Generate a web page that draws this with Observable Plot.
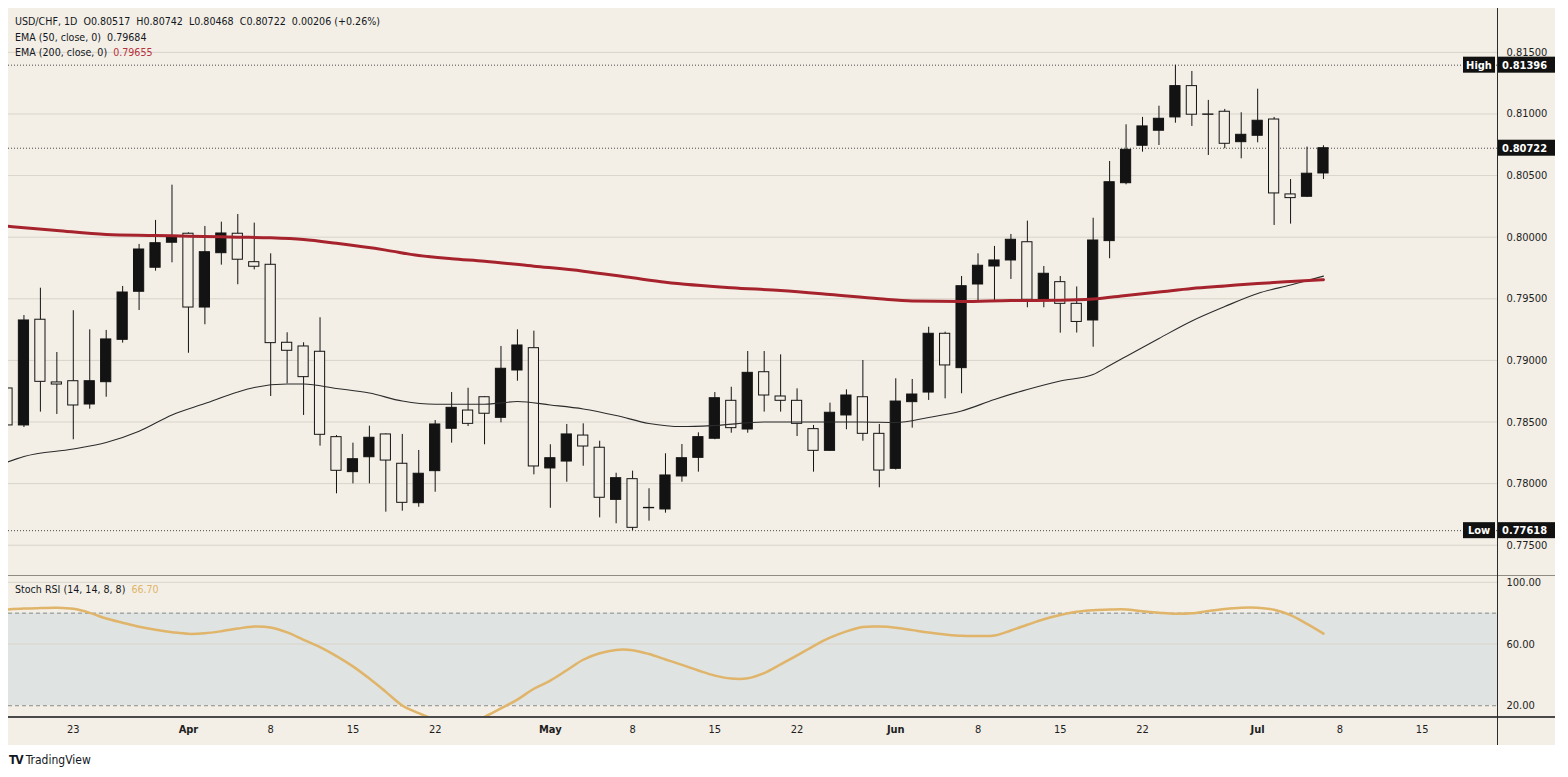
<!DOCTYPE html>
<html><head><meta charset="utf-8">
<script src="https://cdn.jsdelivr.net/npm/d3@7"></script>
<script src="https://cdn.jsdelivr.net/npm/@observablehq/plot@0.6"></script>
<style>
html,body{margin:0;padding:0;background:#fff;}
#wrap{position:relative;width:1568px;height:777px;overflow:hidden;font-family:"DejaVu Sans",sans-serif;font-stretch:condensed;color:#131722;}
#bg{position:absolute;left:8px;top:8px;width:1547px;height:737px;background:#f3efe6;}
.panel{position:absolute;left:8px;}
#price{top:8px;}
#stoch{top:576px;}
.hline{position:absolute;left:8px;width:1547px;}
#sep{top:575px;height:1px;background:#8f8c86;}
#bot{top:716px;height:2px;background:#4a4a4a;}
#vax{position:absolute;left:1497px;top:8px;width:1px;height:737px;background:#2b2b2b;}
.lg{position:absolute;left:15px;font-size:10.6px;line-height:13px;white-space:pre;}
.lg span.v{margin-left:6px;}
#tv{position:absolute;left:9px;top:753px;font-size:12px;white-space:pre;color:#131722;}
#tv b{font-size:12px;letter-spacing:-1px;margin-right:3px;}
</style></head><body>
<div id="wrap">
  <div id="bg"></div>
  <div id="price" class="panel"></div>
  <div id="stoch" class="panel"></div>
  <div id="sep" class="hline"></div>
  <div id="bot" class="hline"></div>
  <div id="vax"></div>
  <div id="lg1" class="lg" style="top:15px"></div>
  <div id="lg2" class="lg" style="top:30.5px"></div>
  <div id="lg3" class="lg" style="top:46px"></div>
  <div id="slabel" class="lg" style="top:583px"></div>
  <div id="tv"><b>TV</b>TradingView</div>
</div>
<script>
// ---- data (USD/CHF daily, 2026-03-17 .. 2026-07-07) ----
const dates = ["03-17","03-18","03-19","03-20","03-23","03-24","03-25","03-26","03-27","03-30",
"03-31","04-01","04-02","04-03","04-06","04-07","04-08","04-09","04-10","04-13",
"04-14","04-15","04-16","04-17","04-20","04-21","04-22","04-23","04-24","04-27",
"04-28","04-29","04-30","05-01","05-04","05-05","05-06","05-07","05-08","05-11",
"05-12","05-13","05-14","05-15","05-18","05-19","05-20","05-21","05-22","05-25",
"05-26","05-27","05-28","05-29","06-01","06-02","06-03","06-04","06-05","06-08",
"06-09","06-10","06-11","06-12","06-15","06-16","06-17","06-18","06-19","06-22",
"06-23","06-24","06-25","06-26","06-29","06-30","07-01","07-02","07-03","07-06","07-07"];

const open = [0.78772,0.78472,0.79330,0.78821,0.78831,0.78642,0.78823,0.79167,0.79557,0.79752,
0.79955,0.80028,0.79429,0.79870,0.80028,0.79797,0.79776,0.79143,0.79113,0.79070,
0.78377,0.78093,0.78214,0.78399,0.78161,0.77841,0.78101,0.78445,0.78593,0.78701,
0.78534,0.78918,0.79099,0.78123,0.78179,0.78390,0.78291,0.77868,0.78036,0.77800,
0.77790,0.78058,0.78209,0.78364,0.78672,0.78439,0.78904,0.78707,0.78672,0.78442,
0.78266,0.78553,0.78701,0.78404,0.78120,0.78661,0.78739,0.79216,0.78937,0.79616,
0.79762,0.79811,0.79959,0.79492,0.79635,0.79459,0.79324,0.79968,0.80438,0.80742,
0.80864,0.80972,0.81226,0.80996,0.81018,0.80771,0.80823,0.80955,0.80347,0.80328,0.80517];

const high = [0.78999,0.79364,0.79586,0.79064,0.79403,0.79248,0.79243,0.79600,0.79941,0.80136,
0.80422,0.80035,0.80087,0.80122,0.80184,0.80114,0.79865,0.79224,0.79143,0.79346,
0.78390,0.78328,0.78466,0.78404,0.78399,0.78269,0.78512,0.78739,0.78774,0.78705,
0.79113,0.79248,0.79237,0.78315,0.78480,0.78485,0.78344,0.78084,0.78101,0.77958,
0.78242,0.78317,0.78412,0.78739,0.78782,0.79072,0.79072,0.79045,0.78769,0.78472,
0.78653,0.78761,0.78999,0.78480,0.78851,0.78845,0.79269,0.79229,0.79681,0.79865,
0.79925,0.80022,0.80130,0.79762,0.79681,0.79596,0.80154,0.80614,0.80912,0.80972,
0.81063,0.81396,0.81345,0.81110,0.81037,0.81010,0.81201,0.80972,0.80468,0.80731,0.80742];

const low = [0.78455,0.78455,0.78580,0.78561,0.78356,0.78604,0.78701,0.79140,0.79405,0.79724,
0.79792,0.79058,0.79289,0.79773,0.79614,0.79735,0.78707,0.78810,0.78553,0.78304,
0.77917,0.77998,0.77998,0.77768,0.77776,0.77808,0.77930,0.78328,0.78463,0.78315,
0.78493,0.78831,0.78071,0.77800,0.78011,0.78141,0.77722,0.77674,0.77618,0.77695,
0.77760,0.78011,0.78093,0.78356,0.78409,0.78409,0.78580,0.78580,0.78382,0.78093,
0.78263,0.78437,0.78344,0.77966,0.78110,0.78450,0.78675,0.78688,0.78729,0.79478,
0.79486,0.79657,0.79427,0.79427,0.79221,0.79222,0.79107,0.79825,0.80425,0.80690,
0.80744,0.80925,0.80899,0.80663,0.80718,0.80636,0.80766,0.80095,0.80106,0.80322,0.80468];

const close = [0.78472,0.79324,0.78826,0.78804,0.78634,0.78831,0.79170,0.79551,0.79900,0.79951,
0.80000,0.79429,0.79878,0.80030,0.79817,0.79760,0.79140,0.79078,0.78864,0.78396,
0.78104,0.78198,0.78372,0.78187,0.77844,0.78080,0.78480,0.78615,0.78485,0.78567,
0.78932,0.79121,0.78139,0.78206,0.78399,0.78301,0.77885,0.78044,0.77641,0.77803,
0.78066,0.78206,0.78377,0.78693,0.78450,0.78899,0.78715,0.78672,0.78485,0.78266,
0.78575,0.78715,0.78404,0.78106,0.78666,0.78723,0.79216,0.78959,0.79602,0.79768,
0.79811,0.79979,0.79492,0.79703,0.79459,0.79312,0.79973,0.80446,0.80709,0.80899,
0.80961,0.81226,0.80994,0.80993,0.80758,0.80831,0.80945,0.80355,0.80317,0.80515,0.80722];

// EMA 50 read at bar indices
const ema50Idx = [0,1,4,6,8,10,12,14,15,17,18,20,22,24,26,29,31,33,35,37,39,41,43,46,49,52,54,56,58,60,62,64,66,67,68,70,72,74,76,78,80];
const ema50Val = [0.78175,0.78220,0.78281,0.78334,0.78425,0.78557,0.78650,0.78744,0.78780,0.78808,0.78808,0.78772,0.78735,0.78670,0.78644,0.78644,0.78666,0.78638,0.78606,0.78553,0.78488,0.78463,0.78472,0.78500,0.78500,0.78500,0.78496,0.78537,0.78589,0.78683,0.78764,0.78833,0.78886,0.78959,0.79032,0.79178,0.79320,0.79437,0.79543,0.79612,0.79684];
// EMA 200 read at bar indices
const ema200Idx = [0,3,6,9,11,14,16,18,20,23,25,27,29,32,35,38,40,44,47,50,53,55,58,61,64,66,68,70,72,74,76,78,80];
const ema200Val = [0.80089,0.80054,0.80022,0.80014,0.80008,0.80000,0.79995,0.79981,0.79950,0.79895,0.79851,0.79825,0.79805,0.79765,0.79724,0.79670,0.79635,0.79590,0.79567,0.79535,0.79500,0.79482,0.79478,0.79486,0.79488,0.79498,0.79527,0.79555,0.79584,0.79604,0.79624,0.79640,0.79655];

// Stoch RSI per bar
const stoch = [82.4,83.0,83.3,83.5,82.8,80.2,76.5,73.8,71.2,69.2,
67.7,66.6,67.0,68.3,70.0,71.4,70.7,67.5,62.7,58.0,
52.2,45.5,37.6,29.0,20.2,15.2,11.0,8.0,9.0,12.8,
18.3,24.0,31.0,36.3,43.0,49.8,54.0,56.2,56.0,53.5,
50.0,46.5,42.8,39.5,37.6,37.8,41.2,46.8,52.6,58.7,
64.1,68.2,71.0,71.3,70.6,69.0,67.4,66.2,65.3,65.2,
65.5,68.8,72.5,76.1,78.8,80.9,81.9,82.3,82.4,81.2,
80.3,79.6,79.9,81.4,82.7,83.5,83.5,82.2,78.7,73.0,66.7];

const priceTicks = [0.775,0.780,0.785,0.790,0.795,0.800,0.805,0.810,0.815];
const stochTicks = [20,60,100];
const stochBand = [20,80];
const tickIdx = [4,11,16,21,26,33,38,43,48,54,59,64,69,76,81,86];
const tickLabel = ["23","Apr","8","15","22","May","8","15","22","Jun","8","15","22","Jul","8","15"];
const monthLabels = ["Apr","May","Jun","Jul"];
const levelValues = [0.81396, 0.80722, 0.77618];
const levelTags = ["High", "", "Low"];

// ---- styling ----
const FONT = '"DejaVu Sans", sans-serif';
const BG = "#f3efe6", INK = "#131313", GRID = "#d8d4cb", RED = "#a6232d", ORANGE = "#e0b469", BAND = "#dfe3e2";
const xDomain = [0.061, 90.58];

const candles = dates.map((d, i) => ({i, d, o: open[i], h: high[i], l: low[i], c: close[i]}));
const ema50 = ema50Idx.map((i, k) => ({i, v: ema50Val[k]}));
const ema200 = ema200Idx.map((i, k) => ({i, v: ema200Val[k]}));
const stochData = stoch.map((v, i) => ({i, v}));
const labelOf = new Map(tickIdx.map((t, k) => [t, tickLabel[k]]));
const dayTicks = tickIdx.filter(t => !monthLabels.includes(labelOf.get(t)));
const monTicks = tickIdx.filter(t => monthLabels.includes(labelOf.get(t)));

const style = {background: "transparent", fontFamily: FONT, fontStretch: "condensed", fontSize: "11px", overflow: "visible", color: "#131722"};

const priceChart = Plot.plot({
  width: 1547, height: 568,
  marginLeft: 0, marginRight: 58, marginTop: 0, marginBottom: 0,
  x: {domain: xDomain, axis: null, label: null},
  y: {domain: [0.77246, 0.81856], axis: null, label: null},
  style,
  marks: [
    Plot.ruleY(priceTicks, {stroke: GRID, strokeWidth: 1}),
    Plot.axisY({anchor: "right", label: null, ticks: priceTicks, tickFormat: d => d.toFixed(5), tickSize: 0, tickPadding: 9, fill: "#1e1e1e", fontSize: 11}),
    Plot.ruleY(levelValues, {stroke: "#4a4a4a", strokeWidth: 1, strokeDasharray: "1,2"}),
    Plot.ruleX(candles, {x: "i", y1: "l", y2: "h", stroke: INK, strokeWidth: 1, clip: true}),
    Plot.rect(candles, {x1: d => d.i - 0.31, x2: d => d.i + 0.31, y1: "o", y2: "c",
      fill: d => d.c >= d.o ? INK : BG, stroke: INK, strokeWidth: 1, clip: true}),
    Plot.line(ema50, {x: "i", y: "v", stroke: "#2b2b2b", strokeWidth: 1.1, curve: "monotone-x", clip: true}),
    Plot.line(ema200, {x: "i", y: "v", stroke: RED, strokeWidth: 3, curve: "monotone-x", clip: true})
  ]
});
document.getElementById("price").appendChild(priceChart);

// price tags on the right axis, positioned with the chart's own y scale
{
  const ys = priceChart.scale("y");
  const svg = d3.select(priceChart);
  const xr = 1489;
  levelValues.forEach((v, k) => {
    const y = ys.apply(v);
    const g = svg.append("g").attr("text-anchor", "start");
    g.append("rect").attr("x", xr).attr("y", y - 8).attr("width", 58).attr("height", 16).attr("fill", "#111");
    g.append("text").attr("x", xr + 5).attr("y", y).attr("dy", "0.36em").attr("text-anchor", "start").attr("fill", "#fff")
      .attr("font-weight", "bold").attr("font-size", 11).text(v.toFixed(5));
    if (levelTags[k]) {
      g.append("rect").attr("x", xr - 34).attr("y", y - 8).attr("width", 32).attr("height", 16).attr("fill", "#111");
      g.append("text").attr("x", xr - 18).attr("y", y).attr("dy", "0.36em").attr("text-anchor", "middle")
        .attr("fill", "#fff").attr("font-weight", "bold").attr("font-size", 11).text(levelTags[k]);
    }
  });
}

const stochChart = Plot.plot({
  width: 1547, height: 169,
  marginLeft: 0, marginRight: 58, marginTop: 0, marginBottom: 28,
  x: {domain: xDomain, axis: null, label: null},
  y: {domain: [12.38, 103.76], axis: null, label: null},
  style,
  marks: [
    Plot.rect([stochBand], {y1: d => d[0], y2: d => d[1], fill: BAND}),
    Plot.ruleY([100, 60], {stroke: GRID, strokeWidth: 1}),
    Plot.ruleY(stochBand, {stroke: "#8a8a8a", strokeWidth: 1, strokeDasharray: "4,3"}),
    Plot.axisY({anchor: "right", label: null, ticks: stochTicks, tickFormat: d => d.toFixed(2), tickSize: 0, tickPadding: 9, fill: "#1e1e1e", fontSize: 11}),
    Plot.line(stochData, {x: "i", y: "v", stroke: ORANGE, strokeWidth: 2.5, curve: "catmull-rom", clip: true}),
    Plot.axisX({label: null, ticks: dayTicks, tickFormat: t => labelOf.get(t), tickSize: 0, tickPadding: 8, fill: "#1e1e1e", fontSize: 11}),
    Plot.axisX({label: null, ticks: monTicks, tickFormat: t => labelOf.get(t), tickSize: 0, tickPadding: 8, fill: "#1e1e1e", fontSize: 11, fontWeight: "bold"})
  ]
});
document.getElementById("stoch").appendChild(stochChart);

// legends (each piece its own span)
const last = candles[candles.length - 1];
document.getElementById("lg1").innerHTML =
  `<span>USD/CHF, 1D  O${last.o.toFixed(5)}  H${last.h.toFixed(5)}  L${last.l.toFixed(5)}  C${last.c.toFixed(5)}  0.00206 (+0.26%)</span>`;
document.getElementById("lg2").innerHTML =
  `<span>EMA (50, close, 0)</span><span class="v">${ema50Val[ema50Val.length - 1].toFixed(5)}</span>`;
document.getElementById("lg3").innerHTML =
  `<span>EMA (200, close, 0)</span><span class="v" style="color:#b8323e">${ema200Val[ema200Val.length - 1].toFixed(5)}</span>`;
document.getElementById("slabel").innerHTML =
  `<span>Stoch RSI (14, 14, 8, 8)</span><span class="v" style="color:${ORANGE}">${stoch[stoch.length - 1].toFixed(2)}</span>`;
</script>
</body></html>
